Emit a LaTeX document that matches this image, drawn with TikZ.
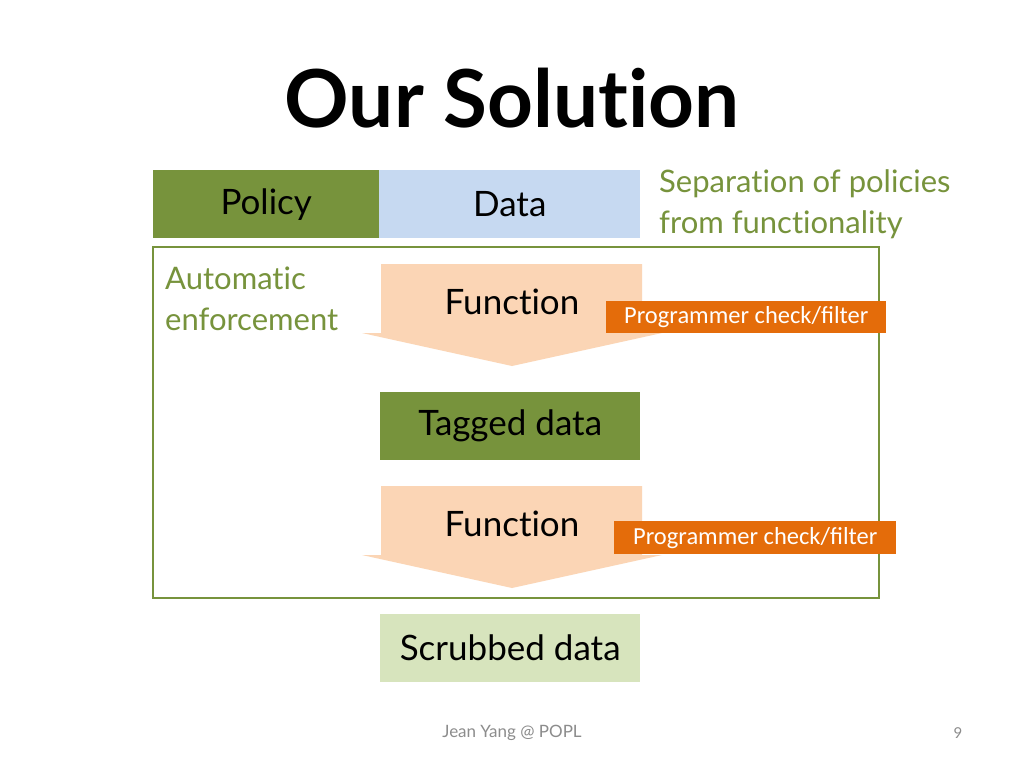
\documentclass[tikz,border=0pt]{standalone}
\usepackage{fontspec}
\setmainfont{Lato}[Ligatures={NoCommon}]
\newfontfamily\calib{Carlito}
\definecolor{pgreen}{HTML}{77933C}
\definecolor{pblue}{HTML}{C6D9F1}
\definecolor{ppeach}{HTML}{FBD5B5}
\definecolor{porange}{HTML}{E46C0A}
\definecolor{plight}{HTML}{D7E4BD}
\definecolor{pgray}{HTML}{8C8C8C}
\tikzset{
  box/.style={draw=none, minimum width=260pt, minimum height=68pt, inner sep=0pt, anchor=north west, font=\fontsize{35}{40}\selectfont, text=black},
  gtext/.style={text=pgreen, align=left, anchor=north west, inner sep=0pt, font=\fontsize{31}{41}\selectfont},
  tag/.style={fill=porange, text=white, inner sep=0pt, minimum height=32pt, anchor=north west, font=\calib\fontsize{24.5}{28}\selectfont},
  arrowfill/.style={fill=ppeach, draw=none},
  frame/.style={draw=pgreen, line width=2.5pt}
}
\begin{document}
\begin{tikzpicture}[x=1pt,y=-1pt]
\useasboundingbox (0,0) rectangle (1024,768);
\fill[white] (0,0) rectangle (1024,768);
% title
\node[font=\bfseries\fontsize{80}{90}\selectfont, inner sep=0pt] (title) at (512,98) {Our Solution};
% policy / data
\node[box, fill=pgreen, minimum width=226pt] (policy) at (153,170) {Policy};
\node[box, fill=pblue, minimum width=261pt] (data) at (379,170) {Data};
\node[gtext] (sep) at (659,169) {Separation of policies\\from functionality};
% frame
\draw[frame] (153,247) rectangle (879,598);
\node[gtext] (auto) at (165,267) {Automatic\\enforcement};
% function arrow 1
\fill[arrowfill] (381,264) -- (642,264) -- (642,333) -- (662,333) -- (512,366) -- (362,333) -- (381,333) -- cycle;
\node[font=\fontsize{35}{40}\selectfont, inner sep=0pt] (f1) at (512,302) {Function};
\node[tag, minimum width=280pt] (t1) at (606,301) {Programmer check/filter};
% tagged data
\node[box, fill=pgreen] (tagged) at (380,392) {Tagged data};
% function arrow 2
\fill[arrowfill] (381,486) -- (642,486) -- (642,555) -- (662,555) -- (512,588) -- (362,555) -- (381,555) -- cycle;
\node[font=\fontsize{35}{40}\selectfont, inner sep=0pt] (f2) at (512,524) {Function};
\node[tag, minimum width=282pt, minimum height=33pt] (t2) at (614,521) {Programmer check/filter};
% scrubbed
\node[box, fill=plight] (scrub) at (380,614) {Scrubbed data};
% footer
\node[text=pgray, font=\fontsize{17}{19}\selectfont, inner sep=0pt] (foot) at (512,733) {Jean Yang @ POPL};
\node[text=pgray, font=\fontsize{15}{17}\selectfont, inner sep=0pt] (num) at (958,733) {9};
\end{tikzpicture}
\end{document}
